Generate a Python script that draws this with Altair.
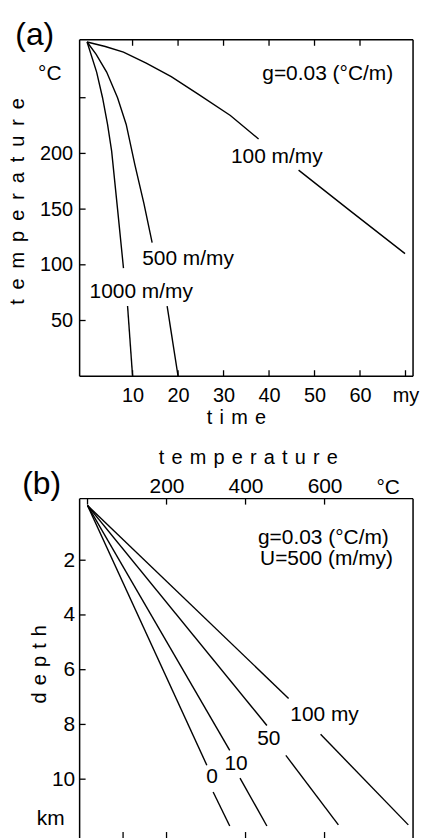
import altair as alt
import pandas as pd

FONT = "Liberation Sans"

# ---------------- panel (a): temperature vs time ----------------
# 100 m/my (two pieces, broken by the label)
a100_t1 = [0, 4, 8, 13, 18.5, 24.5, 31.5, 37.7]
a100_T1 = [300, 296, 291, 281, 269, 253, 234, 213]
a100_t2 = [46.5, 58, 69.9]
a100_T2 = [185, 148, 110]
# 500 m/my
a500_t1 = [0, 2, 4.3, 6.7, 8.6, 10.5, 12.5, 14.3]
a500_T1 = [300, 289, 273, 250, 226, 190, 155, 120]
a500_t2 = [17.6, 20]
a500_T2 = [63, 0]
# 1000 m/my
a1000_t1 = [0, 2.1, 3.4, 4.5, 5.4, 6.7, 8.0]
a1000_T1 = [300, 273, 250, 226, 202, 150, 97]
a1000_t2 = [8.9, 10]
a1000_T2 = [63, 0]

a_xlabels = [10, 20, 30, 40, 50, 60, 70]
a_xticks_top = [10, 20, 30, 40, 50, 60]
a_xticks_bottom = [10, 20, 30, 40, 50, 60, 70]
a_ylabels = [50, 100, 150, 200]
a_yticks = [50, 100, 150, 200, 250]

a_text = ["(a)", "°C", "g=0.03 (°C/m)", "100 m/my", "500 m/my", "1000 m/my"]
a_text_x = [-11.5, -8.2, 52.9, 41.7, 22.2, 11.9]
a_text_y = [306, 271, 271, 197, 105, 76]
a_text_size = [32, 21, 21, 21, 21, 21]

# ---------------- panel (b): depth vs temperature ----------------
b0_T1, b0_d1 = [0, 302], [0, 9.49]
b0_T2, b0_d2 = [318, 360], [10.47, 11.71]
b10_T1, b10_d1 = [0, 360], [0, 8.95]
b10_T2, b10_d2 = [386, 454], [9.96, 11.71]
b50_T1, b50_d1 = [0, 454], [0, 8.04]
b50_T2, b50_d2 = [502, 635], [9.13, 11.67]
b100_T1, b100_d1 = [0, 509], [0, 7.05]
b100_T2, b100_d2 = [590, 812], [8.36, 11.67]

b_xlabels = [200, 400, 600]
b_xticks_top = [0, 200, 400, 600]
b_xticks_bottom = [90, 200, 400, 600]
b_ylabels = [2, 4, 6, 8, 10]
b_yticks = [2, 4, 6, 8, 10]

b_text = ["(b)", "°C", "g=0.03 (°C/m)", "U=500 (m/my)", "100 my", "50", "10", "0", "km"]
b_text_x = [-116, 761, 597, 605, 600, 459, 376, 315, -93]
b_text_y = [-0.8, -0.62, 1.2, 1.96, 7.64, 8.55, 9.45, 9.93, 11.45]
b_text_size = [32, 21, 21, 21, 21, 21, 21, 21, 21]

# ---------------- geometry ----------------
# frame (plot box) extents in data units
A_XFRAME = [-1.64, 71.66]
A_YFRAME = [0, 302]
B_XFRAME = [-20, 824]
B_YFRAME = [-0.25, 12.15]
FW, A_FH, B_FH = 335, 338, 341      # frame sizes in px
M = 10                               # margin between drawing area edge and frame
TICK = 6

A_PXX = FW / (A_XFRAME[1] - A_XFRAME[0])
A_PXY = A_FH / (A_YFRAME[1] - A_YFRAME[0])
B_PXX = FW / (B_XFRAME[1] - B_XFRAME[0])
B_PXY = B_FH / (B_YFRAME[1] - B_YFRAME[0])

A_W, A_H = FW + 2 * M, A_FH + 2 * M
B_W, B_H = FW + 2 * M, B_FH + M      # panel (b) bottom edge lies below the picture
A_XDOM = [A_XFRAME[0] - M / A_PXX, A_XFRAME[1] + M / A_PXX]
A_YDOM = [A_YFRAME[0] - M / A_PXY, A_YFRAME[1] + M / A_PXY]
B_XDOM = [B_XFRAME[0] - M / B_PXX, B_XFRAME[1] + M / B_PXX]
B_YDOM = [B_YFRAME[0] - M / B_PXY, B_YFRAME[1]]


def spaced(word, sep):
    return sep.join(list(word))


def lines_df(series):
    rows = []
    for name, xs, ys in series:
        for i, (x, y) in enumerate(zip(xs, ys)):
            rows.append({"seg": name, "x": x, "y": y, "i": i})
    return pd.DataFrame(rows)


a_df = lines_df([
    ("100a", a100_t1, a100_T1), ("100b", a100_t2, a100_T2),
    ("500a", a500_t1, a500_T1), ("500b", a500_t2, a500_T2),
    ("1000a", a1000_t1, a1000_T1), ("1000b", a1000_t2, a1000_T2),
])
b_df = lines_df([
    ("0a", b0_T1, b0_d1), ("0b", b0_T2, b0_d2),
    ("10a", b10_T1, b10_d1), ("10b", b10_T2, b10_d2),
    ("50a", b50_T1, b50_d1), ("50b", b50_T2, b50_d2),
    ("100a", b100_T1, b100_d1), ("100b", b100_T2, b100_d2),
])

# frame edges (x, x2, y, y2) in data units
a_frame = pd.DataFrame({
    "x": [A_XFRAME[0], A_XFRAME[0], A_XFRAME[1], A_XFRAME[0]],
    "x2": [A_XFRAME[0], A_XFRAME[1], A_XFRAME[1], A_XFRAME[1]],
    "y": [A_YFRAME[0], A_YFRAME[1], A_YFRAME[0], A_YFRAME[0]],
    "y2": [A_YFRAME[1], A_YFRAME[1], A_YFRAME[1], A_YFRAME[0]],
})
b_frame = pd.DataFrame({
    "x": [B_XFRAME[0], B_XFRAME[0], B_XFRAME[1]],
    "x2": [B_XFRAME[0], B_XFRAME[1], B_XFRAME[1]],
    "y": [B_YFRAME[0], B_YFRAME[0], B_YFRAME[0]],
    "y2": [B_YFRAME[1], B_YFRAME[0], B_YFRAME[1]],
})

xa = alt.Scale(domain=A_XDOM, nice=False, zero=False)
ya = alt.Scale(domain=A_YDOM, nice=False, zero=False)
xb = alt.Scale(domain=B_XDOM, nice=False, zero=False)
yb = alt.Scale(domain=B_YDOM, nice=False, zero=False, reverse=True)

AX_A_X = alt.Axis(
    values=a_xlabels, labelExpr="datum.value == 70 ? 'my' : datum.label",
    ticks=False, domain=False, grid=False, offset=-M, labelPadding=9, labelFontSize=20,
    labelFont=FONT, labelColor="black", labelFlush=False,
    title=spaced("time", " \u200a"), titleFont=FONT, titleFontSize=20,
    titleFontWeight="normal", titleColor="black", titleX=157 + M, titleY=42,
    titleBaseline="middle", titleAlign="center")
AX_A_Y = alt.Axis(
    values=a_ylabels, ticks=False, domain=False, grid=False, offset=-M, labelPadding=7,
    labelFontSize=20, labelFont=FONT, labelColor="black", labelFlush=False,
    title=spaced("temperature", "\u2002"), titleFont=FONT, titleFontSize=20,
    titleFontWeight="normal", titleColor="black", titleX=-62, titleY=162 + M,
    titleAngle=270, titleBaseline="middle", titleAlign="center")
AX_B_X = alt.Axis(
    orient="top", values=b_xlabels, ticks=False, domain=False, grid=False, offset=-M,
    labelPadding=2, labelFontSize=21, labelFont=FONT,
    labelColor="black", labelFlush=False,
    title=spaced("temperature", " \u200a"), titleFont=FONT, titleFontSize=20,
    titleFontWeight="normal", titleColor="black", titleX=169 + M, titleY=-41,
    titleBaseline="middle", titleAlign="center")
AX_B_Y = alt.Axis(
    values=b_ylabels, ticks=False, domain=False, grid=False, offset=-M, labelPadding=5,
    labelFontSize=21, labelFont=FONT, labelColor="black", labelFlush=False,
    title=spaced("depth", " \u200a"), titleFont=FONT, titleFontSize=20,
    titleFontWeight="normal", titleColor="black", titleX=-40, titleY=166 + M,
    titleAngle=270, titleBaseline="middle", titleAlign="center")

# ---------- panel (a) ----------
a_lines = alt.Chart(a_df).mark_line(color="black", strokeWidth=1.4).encode(
    x=alt.X("x:Q", scale=xa, axis=AX_A_X),
    y=alt.Y("y:Q", scale=ya, axis=AX_A_Y),
    detail="seg:N", order="i:Q",
)
a_box = alt.Chart(a_frame).mark_rule(color="black", strokeWidth=1.5).encode(
    x=alt.X("x:Q", scale=xa, axis=AX_A_X), x2="x2:Q",
    y=alt.Y("y:Q", scale=ya, axis=AX_A_Y), y2="y2:Q")
a_top = alt.Chart(pd.DataFrame({"x": a_xticks_top})).mark_rule(color="black", strokeWidth=1.3).encode(
    x=alt.X("x:Q", scale=xa, axis=AX_A_X), y=alt.value(M), y2=alt.value(M + TICK))
a_bot = alt.Chart(pd.DataFrame({"x": a_xticks_bottom})).mark_rule(color="black", strokeWidth=1.3).encode(
    x=alt.X("x:Q", scale=xa, axis=AX_A_X), y=alt.value(A_H - M - TICK), y2=alt.value(A_H - M))
a_left = alt.Chart(pd.DataFrame({"y": a_yticks})).mark_rule(color="black", strokeWidth=1.3).encode(
    y=alt.Y("y:Q", scale=ya, axis=AX_A_Y), x=alt.value(M), x2=alt.value(M + TICK))
a_txt = alt.Chart(pd.DataFrame({"t": a_text, "x": a_text_x, "y": a_text_y, "s": a_text_size})).mark_text(
    font=FONT, color="black", baseline="middle", align="center").encode(
    x=alt.X("x:Q", scale=xa, axis=AX_A_X), y=alt.Y("y:Q", scale=ya, axis=AX_A_Y),
    text="t:N", size=alt.Size("s:Q", scale=None, legend=None))

panel_a = alt.layer(a_box, a_lines, a_top, a_bot, a_left, a_txt).properties(width=A_W, height=A_H)

# ---------- panel (b) ----------
b_lines = alt.Chart(b_df).mark_line(color="black", strokeWidth=1.4).encode(
    x=alt.X("x:Q", scale=xb, axis=AX_B_X),
    y=alt.Y("y:Q", scale=yb, axis=AX_B_Y),
    detail="seg:N", order="i:Q",
)
b_box = alt.Chart(b_frame).mark_rule(color="black", strokeWidth=1.5).encode(
    x=alt.X("x:Q", scale=xb, axis=AX_B_X), x2="x2:Q",
    y=alt.Y("y:Q", scale=yb, axis=AX_B_Y), y2="y2:Q")
b_top = alt.Chart(pd.DataFrame({"x": b_xticks_top})).mark_rule(color="black", strokeWidth=1.3).encode(
    x=alt.X("x:Q", scale=xb, axis=AX_B_X), y=alt.value(M), y2=alt.value(M + TICK))
b_bot = alt.Chart(pd.DataFrame({"x": b_xticks_bottom})).mark_rule(color="black", strokeWidth=1.3).encode(
    x=alt.X("x:Q", scale=xb, axis=AX_B_X), y=alt.value(B_H - TICK), y2=alt.value(B_H))
b_left = alt.Chart(pd.DataFrame({"y": b_yticks})).mark_rule(color="black", strokeWidth=1.3).encode(
    y=alt.Y("y:Q", scale=yb, axis=AX_B_Y), x=alt.value(M), x2=alt.value(M + TICK))
b_txt = alt.Chart(pd.DataFrame({"t": b_text, "x": b_text_x, "y": b_text_y, "s": b_text_size})).mark_text(
    font=FONT, color="black", baseline="middle", align="center").encode(
    x=alt.X("x:Q", scale=xb, axis=AX_B_X), y=alt.Y("y:Q", scale=yb, axis=AX_B_Y),
    text="t:N", size=alt.Size("s:Q", scale=None, legend=None))

panel_b = alt.layer(b_box, b_lines, b_top, b_bot, b_left, b_txt).properties(width=B_W, height=B_H)

chart = alt.vconcat(panel_a, panel_b, spacing=123 - 2 * M, bounds="flush").properties(
    padding={"left": 8, "top": 17, "right": 0, "bottom": -2},
    background="white",
).configure_view(stroke="transparent", strokeWidth=0)

chart.save("out.html", embed_options={"renderer": "svg", "actions": False})
